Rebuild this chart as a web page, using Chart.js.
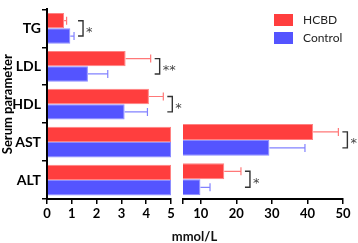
<!DOCTYPE html>
<html>
<head>
<meta charset="utf-8">
<script src="https://cdn.jsdelivr.net/npm/chart.js@4/dist/chart.umd.min.js"></script>
<style>
  html, body { margin: 0; padding: 0; background: #fff; }
  #wrap { position: relative; width: 358px; height: 243px; }
  canvas { position: absolute; left: 0; top: 0; }
  #xtitle { position: absolute; left: 0; width: 389px; top: 228px; text-align: center;
            font: bold 13px Lato, sans-serif; color: #111; }
</style>
</head>
<body>
<div id="wrap">
  <canvas id="left" width="358" height="243"></canvas>
  <canvas id="right" width="358" height="243"></canvas>
  <div id="xtitle">mmol/L</div>
</div>
<script>
const categories = ['TG', 'LDL', 'HDL', 'AST', 'ALT'];
const hcbd = [0.69, 3.17, 4.11, 41.6, 16.6];
const hcbdErr = [0.10, 1.01, 0.58, 7.1, 4.7];
const control = [0.94, 1.65, 3.13, 29.3, 9.9];
const controlErr = [0.15, 0.80, 0.92, 10.0, 2.7];
const signif = ['*', '**', '*', '*', '*'];
const leftTicks = [0, 1, 2, 3, 4, 5];
const rightTicks = [5, 10, 20, 30, 40, 50];
const breakAt = 5;

const red = 'rgb(255,62,62)';
const blue = 'rgb(84,84,255)';
const font = 'Lato, sans-serif';
const errs = [hcbdErr, controlErr];
const vals = [hcbd, control];
const errColors = ['rgb(255,120,120)', 'rgb(130,130,255)'];

// error bars + significance brackets, drawn only for rows whose bars end in this panel
const marks = {
    id: 'marks',
    afterDatasetsDraw(chart, args, opts) {
        const ctx = chart.ctx;
        const x = chart.scales.x;
        categories.forEach((c, i) => {
            const inPanel = opts.side === 'left' ? hcbd[i] <= breakAt : hcbd[i] > breakAt;
            if (!inPanel) return;
            const ys = [];
            let maxEnd = 0;
            [0, 1].forEach(d => {
                const el = chart.getDatasetMeta(d).data[i];
                const x0 = x.getPixelForValue(vals[d][i]);
                const x1 = x.getPixelForValue(vals[d][i] + errs[d][i]);
                ys.push(el.y);
                maxEnd = Math.max(maxEnd, x1);
                ctx.save();
                ctx.strokeStyle = errColors[d];
                ctx.lineWidth = 1.2;
                ctx.beginPath();
                ctx.moveTo(x0, el.y);
                ctx.lineTo(x1, el.y);
                ctx.moveTo(x1, el.y - 4);
                ctx.lineTo(x1, el.y + 4);
                ctx.stroke();
                ctx.restore();
            });
            const bx = maxEnd + 9;
            ctx.save();
            ctx.strokeStyle = '#333';
            ctx.lineWidth = 1.4;
            ctx.beginPath();
            ctx.moveTo(bx - 5, ys[0]);
            ctx.lineTo(bx, ys[0]);
            ctx.lineTo(bx, ys[1]);
            ctx.lineTo(bx - 5, ys[1]);
            ctx.stroke();
            ctx.fillStyle = '#444';
            ctx.font = '13px "DejaVu Sans", sans-serif';
            ctx.textBaseline = 'middle';
            ctx.fillText(signif[i], bx + 3, (ys[0] + ys[1]) / 2 + 4);
            ctx.restore();
        });
        if (opts.side === 'right') {
            ctx.save();
            ctx.font = '12px ' + font;
            ctx.textBaseline = 'middle';
            [['HCBD', red, 14], ['Control', blue, 32]].forEach(([t, col, y]) => {
                ctx.fillStyle = col;
                ctx.fillRect(274, y, 19, 12);
                ctx.fillStyle = '#222';
                ctx.fillText(t, 303, y + 6);
            });
            ctx.restore();
        }
    }
};

function datasets(clipFn) {
    return [
        { label: 'HCBD', data: hcbd.map(clipFn), backgroundColor: red,
          borderColor: 'rgb(255,130,130)', borderWidth: 1,
          barPercentage: 1, categoryPercentage: 0.81 },
        { label: 'Control', data: control.map(clipFn), backgroundColor: blue,
          borderColor: 'rgb(140,140,255)', borderWidth: 1,
          barPercentage: 1, categoryPercentage: 0.81 }
    ];
}

const axisGrid = { drawOnChartArea: false, drawTicks: true, tickLength: 5, color: '#000', lineWidth: 1.5 };
const axisBorder = { color: '#000', width: 2 };
const xTickFont = { family: font, size: 13, weight: 'bold' };
const yTickFont = { family: font, size: 14, weight: 'bold' };

new Chart(document.getElementById('left'), {
    type: 'bar',
    data: { labels: categories, datasets: datasets(v => Math.min(v, breakAt)) },
    options: {
        indexAxis: 'y',
        responsive: false,
        animation: false,
        layout: { padding: { left: 0, right: 187, top: 2, bottom: 0 } },
        plugins: { legend: { display: false }, tooltip: { enabled: false }, marks: { side: 'left' } },
        scales: {
            x: {
                type: 'linear', min: 0, max: breakAt,
                afterBuildTicks: s => { s.ticks = leftTicks.map(v => ({ value: v })); },
                afterFit: s => { s.height = 44; },
                grid: axisGrid, border: axisBorder,
                ticks: { font: xTickFont, color: '#000', padding: 2, autoSkip: false, maxRotation: 0 }
            },
            y: {
                afterFit: s => { s.width = 47; },
                grid: axisGrid, border: axisBorder,
                ticks: { font: yTickFont, color: '#000', padding: 1 },
                title: { display: true, text: 'Serum parameter', color: '#000',
                         font: { family: font, size: 13, weight: 'bold' }, padding: 0 }
            }
        }
    },
    plugins: [marks]
});

new Chart(document.getElementById('right'), {
    type: 'bar',
    data: { labels: categories, datasets: datasets(v => v > breakAt ? v : null) },
    options: {
        indexAxis: 'y',
        responsive: false,
        animation: false,
        layout: { padding: { left: 183, right: 15, top: 2, bottom: 0 } },
        plugins: { legend: { display: false }, tooltip: { enabled: false }, marks: { side: 'right' } },
        scales: {
            x: {
                type: 'linear', min: breakAt, max: 50,
                afterBuildTicks: s => { s.ticks = rightTicks.map(v => ({ value: v })); },
                afterFit: s => { s.height = 44; },
                grid: axisGrid, border: axisBorder,
                ticks: { font: xTickFont, color: '#000', padding: 2, autoSkip: false, maxRotation: 0,
                         callback: v => v === breakAt ? '' : v }
            },
            y: { display: false }
        }
    },
    plugins: [marks]
});
</script>
</body>
</html>
